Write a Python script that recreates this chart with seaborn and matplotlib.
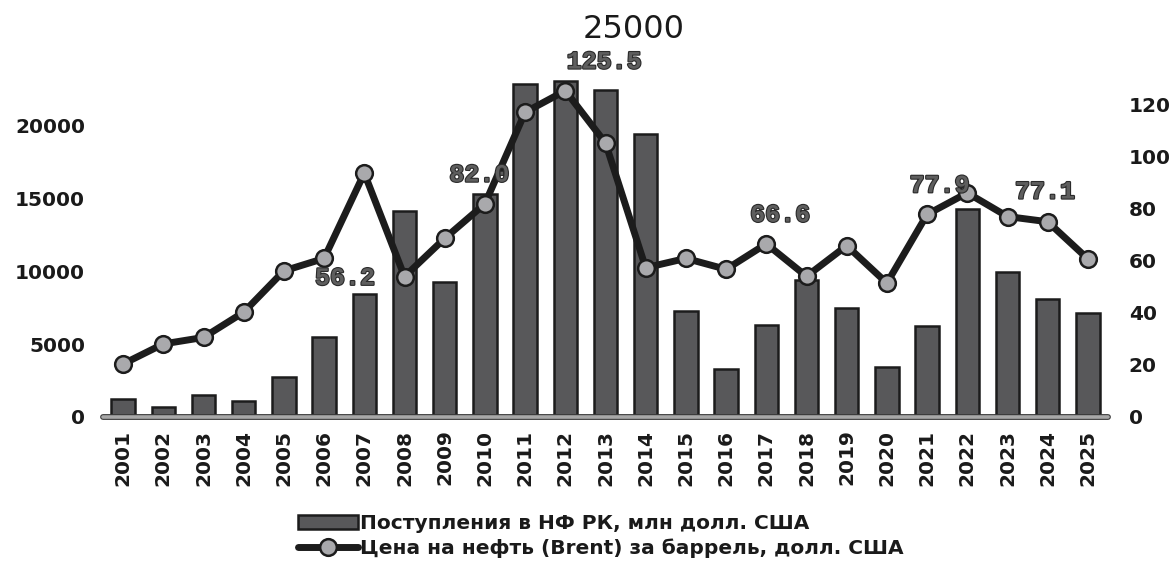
import numpy as np
import pandas as pd
import matplotlib
matplotlib.use("Agg")
import matplotlib.pyplot as plt
import matplotlib.patheffects as pe
from matplotlib.patches import Patch
from matplotlib.lines import Line2D
import seaborn as sns

years = [str(y) for y in range(2001, 2026)]
inflows = [1240, 690, 1510, 1100, 2770, 5480, 8430, 14150, 9290, 15320, 22840, 23090,
           22460, 19440, 7280, 3300, 6290, 9380, 7490, 3440, 6220, 14290, 9960, 8110, 7140]
brent = [20.4, 28.1, 30.6, 40.3, 56.2, 61.0, 93.8, 54.0, 68.7, 82.0, 117.2, 125.5,
         105.4, 57.4, 61.0, 56.8, 66.6, 54.1, 65.9, 51.5, 77.9, 86.2, 77.1, 75.1, 60.8]
left_ticks = [0, 5000, 10000, 15000, 20000]
right_ticks = [0, 20, 40, 60, 80, 100, 120]
label_years = ["2005", "2010", "2012", "2017", "2021", "2023"]
label_offsets = [(44, -5), (-4, 21), (28, 21), (10, 21), (9, 21), (27, 18)]
legend_labels = ["Поступления в НФ РК, млн долл. США",
                 "Цена на нефть (Brent) за баррель, долл. США"]

sns.set_theme(style="white")
plt.rcParams['font.family'] = ['DejaVu Sans']

df = pd.DataFrame({"year": years, "inflow": inflows, "brent": brent})

fig = plt.figure(figsize=(11.75, 5.61), dpi=100)
ax = fig.add_axes([103/1175, 1-417/561, (1108-103)/1175, (417-53)/561])

BAR = "#58585a"
DARK = "#1c1c1c"
sns.barplot(data=df, x="year", y="inflow", ax=ax, color=BAR, saturation=1,
            width=0.58, edgecolor=DARK, linewidth=1.8, zorder=2)
ax.set_xlim(-0.5, len(years) - 0.5)
ax.set_ylim(0, 25000)
ax.set_yticks(left_ticks)
ax.set_yticklabels([str(t) for t in left_ticks])
ax.set_xlabel("")
ax.set_ylabel("")
for s in ax.spines.values():
    s.set_visible(False)
ax.tick_params(axis='both', length=0, labelsize=14.5, labelcolor="#1a1a1a")
ax.tick_params(axis='y', pad=13)
ax.tick_params(axis='x', pad=9, labelrotation=90)
for t in ax.get_xticklabels() + ax.get_yticklabels():
    t.set_fontweight('bold')
ax.axhline(0, color="#a8a8a8", lw=2.6, zorder=3, clip_on=False,
           path_effects=[pe.Stroke(linewidth=4.2, foreground="#3a3a3a"), pe.Normal()])

ax2 = ax.twinx()
xs = np.arange(len(years))
sns.lineplot(x=xs, y=brent, ax=ax2, color=DARK, lw=5, marker='o', markersize=12,
             markerfacecolor="#a9a9ac", markeredgecolor=DARK, markeredgewidth=1.8,
             zorder=4)
ax2.set_xlim(-0.5, len(years) - 0.5)
ax2.set_ylim(0, 140)
ax2.set_yticks(right_ticks)
ax2.set_yticklabels([str(t) for t in right_ticks])
ax2.set_ylabel("")
for s in ax2.spines.values():
    s.set_visible(False)
ax2.tick_params(axis='y', length=0, labelsize=14.5, labelcolor="#1a1a1a", pad=15)
for t in ax2.get_yticklabels():
    t.set_fontweight('bold')

for yr, off in zip(label_years, label_offsets):
    i = years.index(yr)
    ax2.annotate(f"{brent[i]:.1f}", xy=(i, brent[i]), xytext=off,
                 textcoords="offset points", ha="center", va="center",
                 fontsize=18, fontweight="bold", family="Liberation Mono",
                 color="#5e5e5e", zorder=5,
                 path_effects=[pe.Stroke(linewidth=1.6, foreground="#2a2a2a"), pe.Normal()])

fig.text(634/1175, 1-29/561, "25000", ha="center", va="center", fontsize=23,
         color="#1a1a1a")

handles = [Patch(facecolor=BAR, edgecolor=DARK, linewidth=1.8),
           Line2D([0], [0], color=DARK, lw=5, marker='o', markersize=12,
                  markerfacecolor="#a9a9ac", markeredgecolor=DARK, markeredgewidth=1.8)]
leg = fig.legend(handles, legend_labels, loc="upper center",
                 bbox_to_anchor=(601/1175, 1-514/561), frameon=False,
                 prop={"weight": "bold", "size": 14.5}, handlelength=3.0,
                 handletextpad=0.1, labelspacing=0.28, borderaxespad=0,
                 borderpad=0)
for t in leg.get_texts():
    t.set_color("#1a1a1a")

fig.savefig("out.png", dpi=100)
